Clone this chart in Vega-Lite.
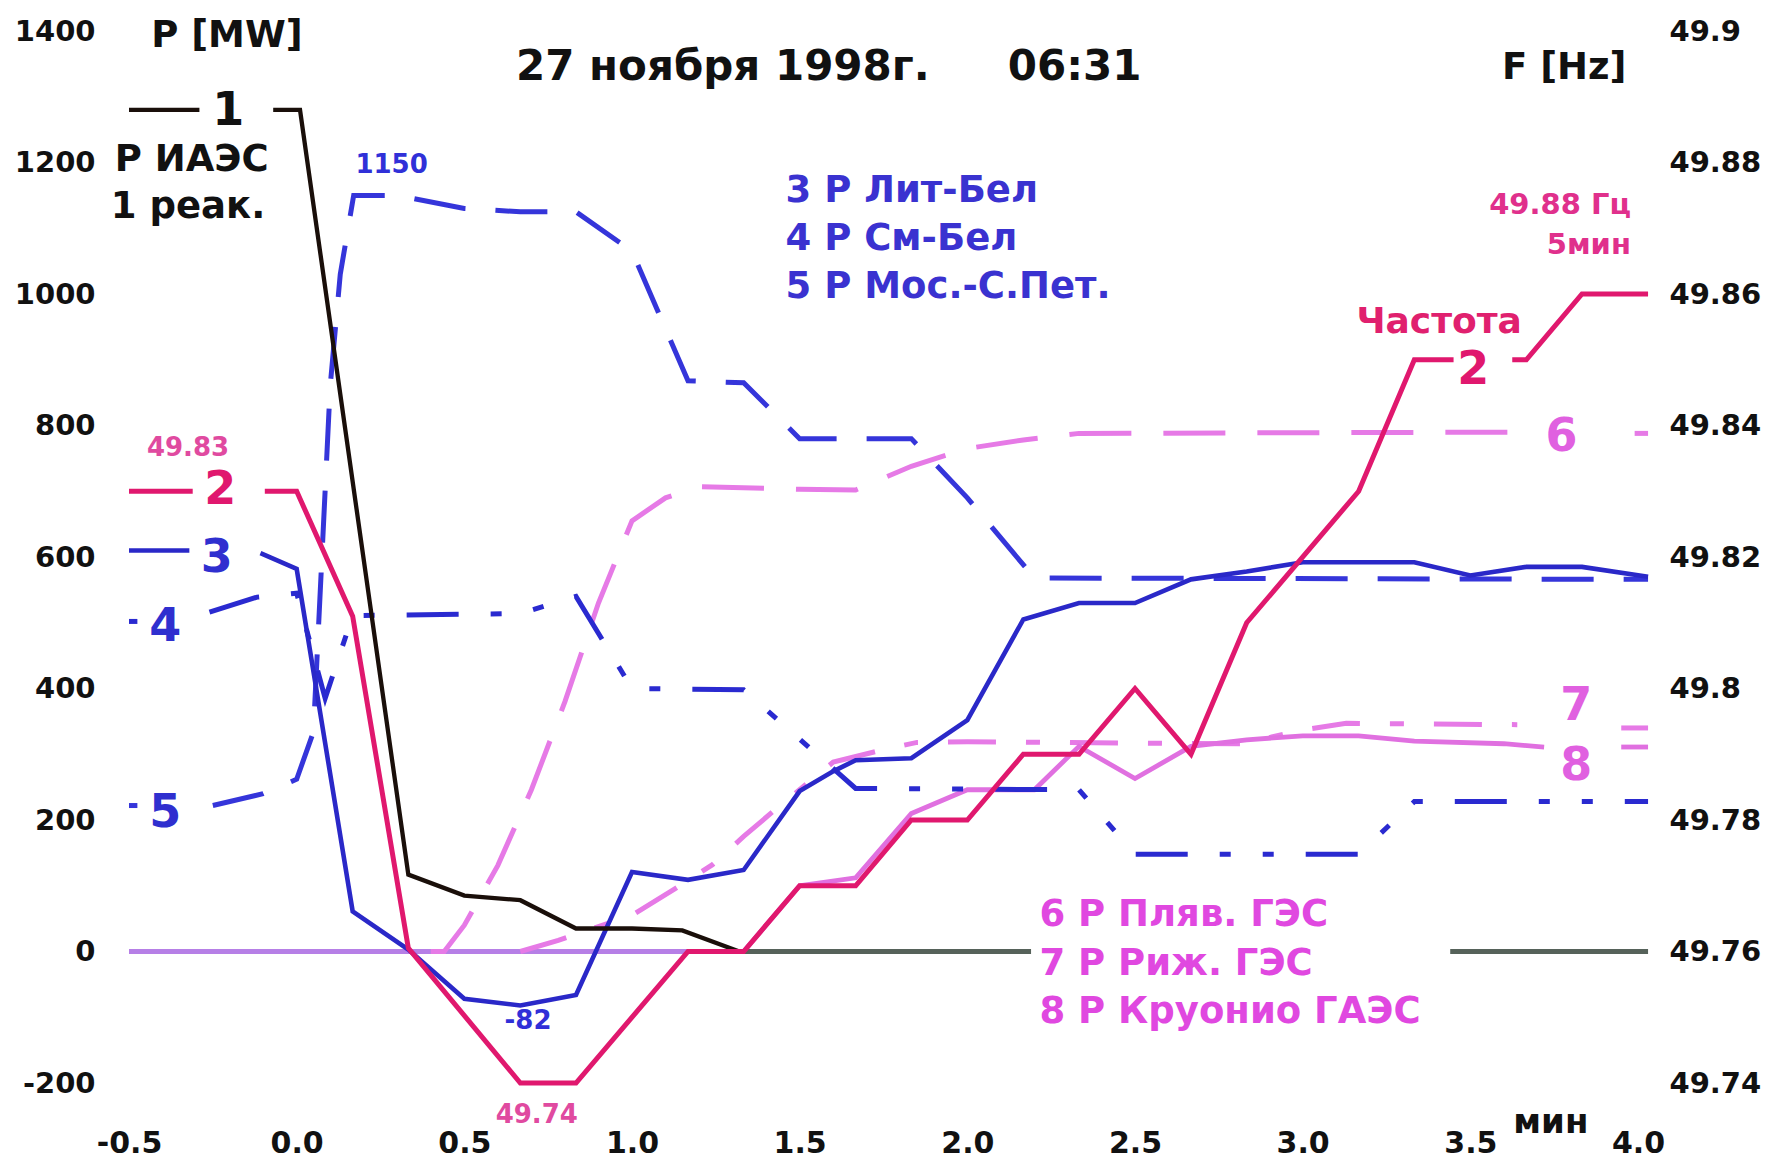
{
"$schema": "https://vega.github.io/schema/vega-lite/v6.json",
"width": 1509, "height": 1052,
"autosize": {"type": "none"},
"padding": {"left": 129, "top": 31, "right": 149, "bottom": 84},
"background": "white",
"config": {"view": {"stroke": null}, "font": "DejaVu Sans", "text": {"font": "DejaVu Sans", "fontWeight": "bold", "baseline": "middle", "align": "center"}},
"datasets": {
"P": [
{"s":"z","g":"a","t":-0.5,"p":0},{"s":"z","g":"a","t":1.333,"p":0},
{"s":"6","g":"a","t":0.40,"p":0},{"s":"6","g":"a","t":0.44,"p":0},{"s":"6","g":"a","t":0.5,"p":40},{"s":"6","g":"a","t":0.6,"p":131},{"s":"6","g":"a","t":0.7,"p":246},{"s":"6","g":"a","t":0.8,"p":380},{"s":"6","g":"a","t":0.9,"p":530},{"s":"6","g":"a","t":1.0,"p":655},{"s":"6","g":"a","t":1.1,"p":690},{"s":"6","g":"a","t":1.2,"p":707},{"s":"6","g":"a","t":1.5,"p":703},{"s":"6","g":"a","t":1.667,"p":702},{"s":"6","g":"a","t":1.833,"p":738},{"s":"6","g":"a","t":2.0,"p":765},{"s":"6","g":"a","t":2.167,"p":778},{"s":"6","g":"a","t":2.333,"p":788},{"s":"6","g":"a","t":3.69,"p":790},
{"s":"6","g":"b","t":3.99,"p":788},{"s":"6","g":"b","t":4.03,"p":788},
{"s":"7","g":"a","t":0.667,"p":0},{"s":"7","g":"a","t":0.78,"p":17},{"s":"7","g":"a","t":1.0,"p":55},{"s":"7","g":"a","t":1.13,"p":96},{"s":"7","g":"a","t":1.24,"p":132},{"s":"7","g":"a","t":1.333,"p":175},{"s":"7","g":"a","t":1.43,"p":217},{"s":"7","g":"a","t":1.6,"p":288},{"s":"7","g":"a","t":1.75,"p":307},{"s":"7","g":"a","t":1.85,"p":318},{"s":"7","g":"a","t":2.0,"p":319},{"s":"7","g":"a","t":2.5,"p":317},{"s":"7","g":"a","t":2.82,"p":316},{"s":"7","g":"a","t":3.0,"p":337},{"s":"7","g":"a","t":3.13,"p":347},{"s":"7","g":"a","t":3.64,"p":345},
{"s":"7","g":"b","t":3.95,"p":340},{"s":"7","g":"b","t":4.03,"p":340},
{"s":"8","g":"a","t":1.333,"p":0},{"s":"8","g":"a","t":1.5,"p":100},{"s":"8","g":"a","t":1.667,"p":112},{"s":"8","g":"a","t":1.833,"p":210},{"s":"8","g":"a","t":2.0,"p":246},{"s":"8","g":"a","t":2.2,"p":246},{"s":"8","g":"a","t":2.333,"p":312},{"s":"8","g":"a","t":2.5,"p":263},{"s":"8","g":"a","t":2.667,"p":312},{"s":"8","g":"a","t":2.833,"p":322},{"s":"8","g":"a","t":3.0,"p":328},{"s":"8","g":"a","t":3.167,"p":328},{"s":"8","g":"a","t":3.333,"p":320},{"s":"8","g":"a","t":3.6,"p":316},{"s":"8","g":"a","t":3.72,"p":311},
{"s":"8","g":"b","t":3.95,"p":311},{"s":"8","g":"b","t":4.03,"p":311},
{"s":"5","g":"a","t":-0.5,"p":222},{"s":"5","g":"a","t":-0.475,"p":222},
{"s":"5","g":"b","t":-0.25,"p":222},{"s":"5","g":"b","t":-0.1,"p":240},{"s":"5","g":"b","t":0.0,"p":262},{"s":"5","g":"b","t":0.05,"p":334},{"s":"5","g":"b","t":0.1,"p":860},{"s":"5","g":"b","t":0.13,"p":1030},{"s":"5","g":"b","t":0.17,"p":1150},{"s":"5","g":"b","t":0.3,"p":1150},{"s":"5","g":"b","t":0.5,"p":1130},{"s":"5","g":"b","t":0.667,"p":1125},{"s":"5","g":"b","t":0.833,"p":1125},{"s":"5","g":"b","t":1.0,"p":1065},{"s":"5","g":"b","t":1.167,"p":868},{"s":"5","g":"b","t":1.333,"p":865},{"s":"5","g":"b","t":1.5,"p":780},{"s":"5","g":"b","t":1.833,"p":780},{"s":"5","g":"b","t":2.0,"p":690},{"s":"5","g":"b","t":2.2,"p":568},{"s":"5","g":"b","t":4.03,"p":566},
{"s":"4","g":"a","t":-0.5,"p":502},{"s":"4","g":"a","t":-0.475,"p":502},
{"s":"4","g":"b","t":-0.26,"p":516},{"s":"4","g":"b","t":-0.118,"p":539},{"s":"4","g":"b","t":0.0,"p":545},{"s":"4","g":"b","t":0.085,"p":385},{"s":"4","g":"b","t":0.167,"p":511},{"s":"4","g":"b","t":0.667,"p":514},{"s":"4","g":"b","t":0.833,"p":540},{"s":"4","g":"b","t":1.0,"p":400},{"s":"4","g":"b","t":1.333,"p":398},{"s":"4","g":"b","t":1.667,"p":248},{"s":"4","g":"b","t":2.333,"p":246},{"s":"4","g":"b","t":2.5,"p":148},{"s":"4","g":"b","t":3.167,"p":148},{"s":"4","g":"b","t":3.333,"p":228},{"s":"4","g":"b","t":4.03,"p":228},
{"s":"3","g":"a","t":-0.5,"p":610},{"s":"3","g":"a","t":-0.32,"p":610},
{"s":"3","g":"b","t":-0.108,"p":606},{"s":"3","g":"b","t":0.0,"p":582},{"s":"3","g":"b","t":0.167,"p":61},{"s":"3","g":"b","t":0.333,"p":3},{"s":"3","g":"b","t":0.5,"p":-72},{"s":"3","g":"b","t":0.667,"p":-82},{"s":"3","g":"b","t":0.833,"p":-66},{"s":"3","g":"b","t":1.0,"p":121},{"s":"3","g":"b","t":1.167,"p":109},{"s":"3","g":"b","t":1.333,"p":124},{"s":"3","g":"b","t":1.5,"p":244},{"s":"3","g":"b","t":1.6,"p":274},{"s":"3","g":"b","t":1.667,"p":291},{"s":"3","g":"b","t":1.833,"p":294},{"s":"3","g":"b","t":2.0,"p":352},{"s":"3","g":"b","t":2.167,"p":505},{"s":"3","g":"b","t":2.333,"p":530},{"s":"3","g":"b","t":2.5,"p":530},{"s":"3","g":"b","t":2.667,"p":566},{"s":"3","g":"b","t":2.833,"p":578},{"s":"3","g":"b","t":3.0,"p":592},{"s":"3","g":"b","t":3.167,"p":592},{"s":"3","g":"b","t":3.333,"p":592},{"s":"3","g":"b","t":3.5,"p":572},{"s":"3","g":"b","t":3.667,"p":585},{"s":"3","g":"b","t":3.833,"p":585},{"s":"3","g":"b","t":4.03,"p":570},
{"s":"0","g":"a","t":1.32,"p":0},{"s":"0","g":"a","t":2.19,"p":0},{"s":"0","g":"b","t":3.44,"p":0},{"s":"0","g":"b","t":4.03,"p":0},
{"s":"1","g":"a","t":-0.5,"p":1280},{"s":"1","g":"a","t":-0.29,"p":1280},
{"s":"1","g":"b","t":-0.07,"p":1280},{"s":"1","g":"b","t":0.01,"p":1280},{"s":"1","g":"b","t":0.333,"p":117},{"s":"1","g":"b","t":0.5,"p":85},{"s":"1","g":"b","t":0.667,"p":78},{"s":"1","g":"b","t":0.833,"p":35},{"s":"1","g":"b","t":1.0,"p":35},{"s":"1","g":"b","t":1.15,"p":32},{"s":"1","g":"b","t":1.32,"p":0}
],
"F": [
{"g":"a","t":-0.5,"f":49.83},{"g":"a","t":-0.31,"f":49.83},
{"g":"b","t":-0.095,"f":49.83},{"g":"b","t":0.0,"f":49.83},{"g":"b","t":0.167,"f":49.811},{"g":"b","t":0.333,"f":49.7605},{"g":"b","t":0.667,"f":49.74},{"g":"b","t":0.833,"f":49.74},{"g":"b","t":1.167,"f":49.76},{"g":"b","t":1.333,"f":49.76},{"g":"b","t":1.5,"f":49.77},{"g":"b","t":1.667,"f":49.77},{"g":"b","t":1.833,"f":49.78},{"g":"b","t":2.0,"f":49.78},{"g":"b","t":2.167,"f":49.79},{"g":"b","t":2.333,"f":49.79},{"g":"b","t":2.5,"f":49.80},{"g":"b","t":2.667,"f":49.79},{"g":"b","t":2.833,"f":49.81},{"g":"b","t":3.167,"f":49.83},{"g":"b","t":3.333,"f":49.85},{"g":"b","t":3.45,"f":49.85},
{"g":"c","t":3.625,"f":49.85},{"g":"c","t":3.667,"f":49.85},{"g":"c","t":3.833,"f":49.86},{"g":"c","t":4.03,"f":49.86}
]
},
"encoding": {
"x": {"field": "t", "type": "quantitative", "scale": {"domain": [-0.5, 4.0], "nice": false, "zero": false},
 "axis": {"orient": "bottom", "values": [-0.5, 0, 0.5, 1, 1.5, 2, 2.5, 3, 3.5, 4], "title": null, "domain": false, "ticks": false, "grid": false, "labelFont": "DejaVu Sans", "labelFontSize": 30, "labelFontWeight": "bold", "labelColor": "#111111", "labelPadding": 45, "labelFlush": false, "labelOverlap": false, "labelExpr": "replace(format(datum.value, '.1f'), '\u2212', '-')"}}
},
"layer": [
{
"encoding": {
"y": {"field": "p", "type": "quantitative", "scale": {"domain": [-200, 1400], "nice": false, "zero": false},
 "axis": {"orient": "left", "values": [-200, 0, 200, 400, 600, 800, 1000, 1200, 1400], "title": null, "domain": false, "ticks": false, "grid": false, "labelFont": "DejaVu Sans", "labelFontSize": 29, "labelFontWeight": "bold", "labelColor": "#111111", "labelPadding": 34, "labelOverlap": false, "labelExpr": "toString(datum.value)"}}
},
"layer": [
{"data": {"name": "P"}, "transform": [{"filter": "datum.s === 'z'"}], "mark": {"type": "line", "color": "#b67fe6", "strokeWidth": 5}, "encoding": {"detail": {"field": "g"}}},
{"data": {"name": "P"}, "transform": [{"filter": "datum.s === '6'"}], "mark": {"type": "line", "color": "#e67ae6", "strokeWidth": 5, "strokeDash": [62, 32], "strokeCap": "butt"}, "encoding": {"detail": {"field": "g"}}},
{"data": {"name": "P"}, "transform": [{"filter": "datum.s === '7'"}], "mark": {"type": "line", "color": "#e67ae6", "strokeWidth": 5, "strokeDash": [48, 30, 14, 30], "strokeCap": "butt"}, "encoding": {"detail": {"field": "g"}}},
{"data": {"name": "P"}, "transform": [{"filter": "datum.s === '8'"}], "mark": {"type": "line", "color": "#e070e0", "strokeWidth": 4.8}, "encoding": {"detail": {"field": "g"}}},
{"data": {"name": "P"}, "transform": [{"filter": "datum.s === '5'"}], "mark": {"type": "line", "color": "#3535da", "strokeWidth": 5, "strokeDash": [52, 30], "strokeCap": "butt"}, "encoding": {"detail": {"field": "g"}}},
{"data": {"name": "P"}, "transform": [{"filter": "datum.s === '4'"}], "mark": {"type": "line", "color": "#2a2ad0", "strokeWidth": 5, "strokeDash": [52, 32, 11, 32, 11, 32], "strokeCap": "butt"}, "encoding": {"detail": {"field": "g"}}},
{"data": {"name": "P"}, "transform": [{"filter": "datum.s === '3'"}], "mark": {"type": "line", "color": "#2a28c8", "strokeWidth": 4.6}, "encoding": {"detail": {"field": "g"}}},
{"data": {"name": "P"}, "transform": [{"filter": "datum.s === '0'"}], "mark": {"type": "line", "color": "#56625a", "strokeWidth": 4.8}, "encoding": {"detail": {"field": "g"}}},
{"data": {"name": "P"}, "transform": [{"filter": "datum.s === '1'"}], "mark": {"type": "line", "color": "#1a0f0a", "strokeWidth": 4.3}, "encoding": {"detail": {"field": "g"}}},
{"data": {"values": [{"t": -0.208, "p": 1393, "txt": "P [MW]"}, {"t": 3.78, "p": 1343, "txt": "F [Hz]"}, {"t": -0.313, "p": 1204, "txt": "P ИАЭС"}, {"t": -0.324, "p": 1132, "txt": "1 реак."}]},
 "mark": {"type": "text", "fontSize": 37, "color": "#111111"}, "encoding": {"text": {"field": "txt"}}},
{"data": {"values": [{"t": 1.271, "p": 1346, "txt": "27 ноября 1998г."}, {"t": 2.32, "p": 1346, "txt": "06:31"}]},
 "mark": {"type": "text", "fontSize": 42, "color": "#111111"}, "encoding": {"text": {"field": "txt"}}},
{"data": {"values": [{"t": 3.74, "p": -261, "txt": "мин"}]},
 "mark": {"type": "text", "fontSize": 34, "color": "#111111"}, "encoding": {"text": {"field": "txt"}}},
{"data": {"values": [{"t": -0.204, "p": 1279, "txt": "1"}]},
 "mark": {"type": "text", "fontSize": 46, "color": "#111111"}, "encoding": {"text": {"field": "txt"}}},
{"data": {"values": [{"t": -0.2385, "p": 598, "txt": "3"}, {"t": -0.392, "p": 494, "txt": "4"}, {"t": -0.392, "p": 211, "txt": "5"}]},
 "mark": {"type": "text", "fontSize": 46, "color": "#2f2fcf"}, "encoding": {"text": {"field": "txt"}}},
{"data": {"values": [{"t": 0.283, "p": 1196, "txt": "1150"}, {"t": 0.69, "p": -105, "txt": "-82"}]},
 "mark": {"type": "text", "fontSize": 26, "color": "#3030d8"}, "encoding": {"text": {"field": "txt"}}},
{"data": {"values": [{"t": 1.458, "p": 1156, "txt": "3 P Лит-Бел"}, {"t": 1.458, "p": 1083, "txt": "4 P См-Бел"}, {"t": 1.458, "p": 1010, "txt": "5 P Мос.-С.Пет."}]},
 "mark": {"type": "text", "fontSize": 37, "align": "left", "color": "#3a32d0"}, "encoding": {"text": {"field": "txt"}}},
{"data": {"values": [{"t": 3.772, "p": 783, "txt": "6"}, {"t": 3.816, "p": 373, "txt": "7"}, {"t": 3.816, "p": 282, "txt": "8"}]},
 "mark": {"type": "text", "fontSize": 46, "color": "#e060e0"}, "encoding": {"text": {"field": "txt"}}},
{"data": {"values": [{"t": 2.215, "p": 55, "txt": "6 P Пляв. ГЭС"}, {"t": 2.215, "p": -19, "txt": "7 P Риж. ГЭС"}, {"t": 2.215, "p": -92, "txt": "8 P Круонио ГАЭС"}]},
 "mark": {"type": "text", "fontSize": 37, "align": "left", "color": "#e048e0"}, "encoding": {"text": {"field": "txt"}}}
]
},
{
"encoding": {
"y": {"field": "f", "type": "quantitative", "scale": {"domain": [49.74, 49.9], "nice": false, "zero": false},
 "axis": {"orient": "right", "values": [49.74, 49.76, 49.78, 49.8, 49.82, 49.84, 49.86, 49.88, 49.9], "title": null, "domain": false, "ticks": false, "grid": false, "labelFont": "DejaVu Sans", "labelFontSize": 29, "labelFontWeight": "bold", "labelColor": "#111111", "labelPadding": 31, "labelOverlap": false, "labelExpr": "toString(round(datum.value * 100) / 100)"}}
},
"layer": [
{"data": {"name": "F"}, "mark": {"type": "line", "color": "#e0186e", "strokeWidth": 5}, "encoding": {"detail": {"field": "g"}}},
{"data": {"values": [{"t": -0.228, "f": 49.8302, "txt": "2"}, {"t": 3.509, "f": 49.8484, "txt": "2"}]},
 "mark": {"type": "text", "fontSize": 46, "color": "#e0186e"}, "encoding": {"text": {"field": "txt"}}},
{"data": {"values": [{"t": -0.324, "f": 49.8366, "txt": "49.83"}, {"t": 0.716, "f": 49.7352, "txt": "49.74"}]},
 "mark": {"type": "text", "fontSize": 26, "color": "#e04aa0"}, "encoding": {"text": {"field": "txt"}}},
{"data": {"values": [{"t": 3.979, "f": 49.8735, "txt": "49.88 Гц"}, {"t": 3.979, "f": 49.8674, "txt": "5мин"}]},
 "mark": {"type": "text", "fontSize": 29, "align": "right", "color": "#e0308c"}, "encoding": {"text": {"field": "txt"}}},
{"data": {"values": [{"t": 3.407, "f": 49.8557, "txt": "Частота"}]},
 "mark": {"type": "text", "fontSize": 36, "color": "#e0206e"}, "encoding": {"text": {"field": "txt"}}}
]
}
],
"resolve": {"scale": {"y": "independent"}}
}
